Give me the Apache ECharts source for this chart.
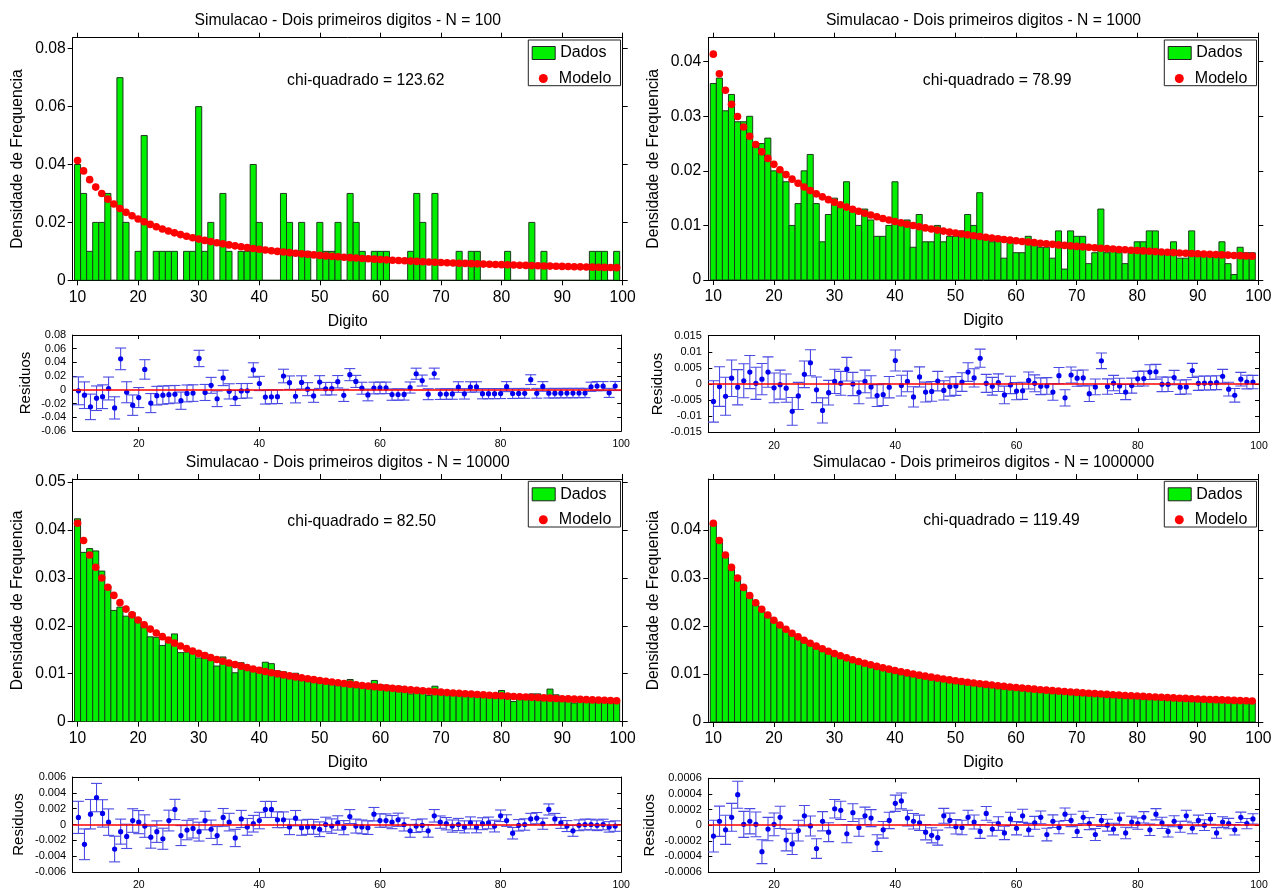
<!DOCTYPE html>
<html><head><meta charset="utf-8">
<script src="https://cdn.jsdelivr.net/npm/echarts@6/dist/echarts.min.js"></script>
<style>html,body{margin:0;padding:0;background:#fff}#c{width:1279px;height:891px}</style>
</head><body><div id="c"></div><script>
// ---------------- DATA ----------------
const digits = [10,11,12,13,14,15,16,17,18,19,20,21,22,23,24,25,26,27,28,29,30,31,32,33,34,35,36,37,38,39,
40,41,42,43,44,45,46,47,48,49,50,51,52,53,54,55,56,57,58,59,60,61,62,63,64,65,66,67,68,69,
70,71,72,73,74,75,76,77,78,79,80,81,82,83,84,85,86,87,88,89,90,91,92,93,94,95,96,97,98,99];

const modelo = [0.04139,0.03779,0.03476,0.03219,0.02996,0.02803,0.02633,0.02482,0.02348,0.02228,
0.02119,0.02020,0.01931,0.01848,0.01773,0.01703,0.01639,0.01579,0.01524,0.01472,
0.01424,0.01379,0.01336,0.01297,0.01259,0.01223,0.01190,0.01158,0.01128,0.01100,
0.01072,0.01047,0.01022,0.00998,0.00976,0.00955,0.00934,0.00914,0.00896,0.00877,
0.00860,0.00843,0.00827,0.00812,0.00797,0.00783,0.00769,0.00755,0.00742,0.00730,
0.00718,0.00706,0.00695,0.00684,0.00673,0.00663,0.00653,0.00643,0.00634,0.00625,
0.00616,0.00607,0.00599,0.00591,0.00583,0.00575,0.00568,0.00560,0.00553,0.00546,
0.00540,0.00533,0.00526,0.00520,0.00514,0.00508,0.00502,0.00496,0.00491,0.00485,
0.00480,0.00475,0.00470,0.00465,0.00460,0.00455,0.00450,0.00446,0.00441,0.00437];

const dados100 = [0.04,0.03,0.01,0.02,0.02,0.03,0,0.07,0.02,0,
0.01,0.05,0,0.01,0.01,0.01,0.01,0,0.01,0.01,
0.06,0.01,0.02,0,0.03,0.01,0,0.01,0.01,0.04,
0.02,0,0,0,0.03,0.02,0,0.02,0.01,0,
0.02,0.01,0.01,0.02,0,0.03,0.02,0.01,0,0.01,
0.01,0.01,0,0,0,0.01,0.03,0.02,0,0.03,
0,0,0,0.01,0,0.01,0.01,0,0,0,
0,0.01,0,0,0,0.02,0,0.01,0,0,
0,0,0,0,0,0.01,0.01,0.01,0,0.01];
const resid100 = [-0.0014,-0.0078,-0.0248,-0.0122,-0.0100,0.0020,-0.0263,0.0452,-0.0035,-0.0223,
-0.0112,0.0298,-0.0193,-0.0085,-0.0077,-0.0070,-0.0064,-0.0158,-0.0052,-0.0047,
0.0458,-0.0038,0.0066,-0.0130,0.0174,-0.0022,-0.0119,-0.0016,-0.0013,0.0290,
0.0093,-0.0105,-0.0102,-0.0100,0.0202,0.0105,-0.0093,0.0109,0.0010,-0.0088,
0.0114,0.0016,0.0017,0.0119,-0.0080,0.0222,0.0123,0.0024,-0.0074,0.0027,
0.0028,0.0029,-0.0069,-0.0068,-0.0067,0.0034,0.0235,0.0136,-0.0063,0.0238,
-0.0062,-0.0061,-0.0060,0.0041,-0.0058,0.0042,0.0043,-0.0056,-0.0055,-0.0055,
-0.0054,0.0047,-0.0053,-0.0052,-0.0051,0.0149,-0.0050,0.0050,-0.0049,-0.0049,
-0.0048,-0.0047,-0.0047,-0.0046,-0.0046,0.0045,0.0055,0.0054,-0.0044,0.0056];
const err100 = [0.0203,0.0194,0.0186,0.0179,0.0173,0.0167,0.0162,0.0158,0.0153,0.0149,
0.0146,0.0142,0.0139,0.0136,0.0133,0.0131,0.0128,0.0126,0.0123,0.0121,
0.0119,0.0117,0.0116,0.0114,0.0112,0.0111,0.0109,0.0108,0.0106,0.0105,
0.0104,0.0102,0.0101,0.0100,0.0099,0.0098,0.0097,0.0096,0.0095,0.0094,
0.0093,0.0092,0.0091,0.0090,0.0089,0.0088,0.0088,0.0087,0.0086,0.0085,
0.0085,0.0084,0.0083,0.0083,0.0082,0.0081,0.0081,0.0080,0.0080,0.0079,
0.0078,0.0078,0.0077,0.0077,0.0076,0.0076,0.0075,0.0075,0.0074,0.0074,
0.0073,0.0073,0.0073,0.0072,0.0072,0.0071,0.0071,0.0070,0.0070,0.0070,
0.0069,0.0069,0.0069,0.0068,0.0068,0.0067,0.0067,0.0067,0.0066,0.0066];

const dados1000 = [0.036,0.037,0.031,0.034,0.029,0.029,0.030,0.025,0.025,0.026,
0.020,0.020,0.018,0.010,0.014,0.020,0.023,0.014,0.007,0.012,
0.015,0.014,0.018,0.013,0.010,0.013,0.011,0.008,0.008,0.010,
0.018,0.010,0.011,0.006,0.012,0.007,0.007,0.010,0.007,0.008,
0.008,0.009,0.012,0.010,0.016,0.008,0.007,0.008,0.004,0.007,
0.005,0.005,0.008,0.007,0.006,0.006,0.004,0.009,0.002,0.009,
0.008,0.008,0.003,0.005,0.013,0.005,0.006,0.005,0.003,0.005,
0.007,0.007,0.009,0.009,0.005,0.005,0.007,0.004,0.004,0.009,
0.005,0.005,0.005,0.005,0.007,0.003,0.001,0.006,0.005,0.005];
const resid1000 = [-0.0054,-0.0008,-0.0038,0.0018,-0.0010,0.0010,0.0037,0.0002,0.0015,0.0037,
-0.0012,-0.0002,-0.0013,-0.0085,-0.0037,0.0030,0.0066,-0.0018,-0.0082,-0.0027,
0.0008,0.0002,0.0046,0.0000,-0.0026,0.0008,-0.0009,-0.0036,-0.0033,-0.0010,
0.0073,-0.0005,0.0008,-0.0040,0.0022,-0.0025,-0.0023,0.0009,-0.0020,-0.0008,
-0.0006,0.0006,0.0037,0.0019,0.0080,0.0002,-0.0007,0.0004,-0.0034,-0.0003,
-0.0022,-0.0021,0.0011,0.0002,-0.0007,-0.0006,-0.0025,0.0026,-0.0043,0.0028,
0.0018,0.0019,-0.0030,-0.0009,0.0072,-0.0008,0.0003,-0.0006,-0.0025,-0.0005,
0.0016,0.0017,0.0037,0.0038,-0.0001,-0.0001,0.0020,-0.0010,-0.0009,0.0042,
0.0002,0.0003,0.0003,0.0004,0.0024,-0.0016,-0.0035,0.0015,0.0006,0.0006];
const err1000 = [0.00643,0.00615,0.00590,0.00567,0.00547,0.00529,0.00513,0.00498,0.00485,0.00472,
0.00460,0.00450,0.00439,0.00430,0.00421,0.00413,0.00405,0.00397,0.00390,0.00384,
0.00377,0.00371,0.00366,0.00360,0.00355,0.00350,0.00345,0.00340,0.00336,0.00332,
0.00328,0.00324,0.00320,0.00316,0.00312,0.00309,0.00306,0.00302,0.00299,0.00296,
0.00293,0.00290,0.00288,0.00285,0.00282,0.00280,0.00277,0.00275,0.00273,0.00270,
0.00268,0.00266,0.00264,0.00262,0.00260,0.00258,0.00256,0.00254,0.00252,0.00250,
0.00248,0.00247,0.00245,0.00243,0.00241,0.00240,0.00238,0.00237,0.00235,0.00234,
0.00232,0.00231,0.00229,0.00228,0.00227,0.00225,0.00224,0.00223,0.00222,0.00220,
0.00219,0.00218,0.00217,0.00216,0.00214,0.00213,0.00212,0.00211,0.00210,0.00209];

const dados10000 = [0.0423,0.0353,0.0361,0.0356,0.0314,0.0283,0.0232,0.0239,0.0220,0.0228,
0.0215,0.0200,0.0177,0.0176,0.0159,0.0175,0.0183,0.0144,0.0145,0.0142,
0.0133,0.0143,0.0128,0.0116,0.0135,0.0125,0.0102,0.0123,0.0110,0.0111,
0.0112,0.0124,0.0121,0.0106,0.0104,0.0093,0.0101,0.0087,0.0087,0.0085,
0.0080,0.0084,0.0081,0.0083,0.0076,0.0088,0.0075,0.0073,0.0070,0.0086,
0.0077,0.0076,0.0072,0.0074,0.0067,0.0058,0.0063,0.0063,0.0055,0.0074,
0.0065,0.0062,0.0058,0.0059,0.0055,0.0060,0.0054,0.0057,0.0057,0.0053,
0.0065,0.0058,0.0042,0.0051,0.0051,0.0058,0.0058,0.0051,0.0068,0.0056,
0.0050,0.0045,0.0039,0.0045,0.0046,0.0045,0.0044,0.0045,0.0041,0.0042];
const resid10000 = [0.0009,-0.0025,0.0013,0.0034,0.0014,0.0003,-0.0031,-0.0009,-0.0015,0.0005,
0.0003,-0.0002,-0.0016,-0.0009,-0.0018,0.0005,0.0019,-0.0014,-0.0007,-0.0005,
-0.0009,0.0005,-0.0006,-0.0014,0.0009,0.0003,-0.0017,0.0007,-0.0003,0.0001,
0.0005,0.0019,0.0019,0.0006,0.0006,-0.0003,0.0008,-0.0004,-0.0003,-0.0003,
-0.0006,0.0000,-0.0002,0.0002,-0.0004,0.0010,-0.0002,-0.0003,-0.0004,0.0013,
0.0005,0.0005,0.0003,0.0006,0.0000,-0.0008,-0.0002,-0.0001,-0.0008,0.0011,
0.0003,0.0001,-0.0002,0.0000,-0.0003,0.0002,-0.0003,0.0001,0.0002,-0.0002,
0.0011,0.0005,-0.0011,-0.0001,0.0000,0.0007,0.0008,0.0001,0.0019,0.0007,
0.0002,-0.0002,-0.0008,-0.0001,0.0000,0.0000,-0.0001,0.0000,-0.0003,-0.0002];
const err10000 = [0.00203,0.00194,0.00186,0.00179,0.00173,0.00167,0.00162,0.00158,0.00153,0.00149,
0.00146,0.00142,0.00139,0.00136,0.00133,0.00131,0.00128,0.00126,0.00123,0.00121,
0.00119,0.00117,0.00116,0.00114,0.00112,0.00111,0.00109,0.00108,0.00106,0.00105,
0.00104,0.00102,0.00101,0.00100,0.00099,0.00098,0.00097,0.00096,0.00095,0.00094,
0.00093,0.00092,0.00091,0.00090,0.00089,0.00088,0.00088,0.00087,0.00086,0.00085,
0.00085,0.00084,0.00083,0.00083,0.00082,0.00081,0.00081,0.00080,0.00080,0.00079,
0.00078,0.00078,0.00077,0.00077,0.00076,0.00076,0.00075,0.00075,0.00074,0.00074,
0.00073,0.00073,0.00073,0.00072,0.00072,0.00071,0.00071,0.00070,0.00070,0.00070,
0.00069,0.00069,0.00069,0.00068,0.00068,0.00067,0.00067,0.00067,0.00066,0.00066];

const dados1000000 = [0.04125,0.03784,0.03470,0.03229,0.03035,0.02804,0.02638,0.02483,0.02314,0.02223,
0.02120,0.02030,0.01912,0.01824,0.01766,0.01715,0.01638,0.01549,0.01529,0.01463,
0.01445,0.01398,0.01325,0.01313,0.01256,0.01235,0.01199,0.01135,0.01122,0.01106,
0.01100,0.01078,0.01031,0.01003,0.00979,0.00946,0.00921,0.00898,0.00908,0.00883,
0.00858,0.00840,0.00837,0.00816,0.00789,0.00798,0.00764,0.00757,0.00732,0.00738,
0.00714,0.00718,0.00689,0.00687,0.00683,0.00651,0.00658,0.00640,0.00648,0.00631,
0.00608,0.00617,0.00601,0.00579,0.00589,0.00575,0.00563,0.00568,0.00543,0.00550,
0.00542,0.00543,0.00520,0.00534,0.00517,0.00500,0.00507,0.00494,0.00503,0.00481,
0.00486,0.00475,0.00478,0.00455,0.00464,0.00457,0.00444,0.00456,0.00443,0.00445];
const resid1000000 = [-0.00014,0.00005,-0.00006,0.00010,0.00039,0.00001,0.00005,0.00001,-0.00034,-0.00005,
0.00001,0.00010,-0.00019,-0.00024,-0.00007,0.00012,-0.00001,-0.00030,0.00005,-0.00009,
0.00021,0.00019,-0.00011,0.00016,-0.00003,0.00012,0.00009,-0.00023,-0.00006,0.00006,
0.00028,0.00031,0.00009,0.00005,0.00003,-0.00009,-0.00013,-0.00016,0.00012,0.00006,
-0.00002,-0.00003,0.00010,0.00004,-0.00008,0.00015,-0.00005,0.00002,-0.00010,0.00008,
-0.00004,0.00012,-0.00006,0.00003,0.00010,-0.00012,0.00005,-0.00003,0.00014,0.00006,
-0.00008,0.00010,0.00002,-0.00012,0.00006,0.00000,-0.00005,0.00008,-0.00010,0.00004,
0.00002,0.00010,-0.00006,0.00014,0.00003,-0.00008,0.00005,-0.00002,0.00012,-0.00004,
0.00006,0.00000,0.00008,-0.00010,0.00004,0.00002,-0.00006,0.00010,0.00002,0.00008];
const err1000000 = [0.000203,0.000194,0.000186,0.000179,0.000173,0.000167,0.000162,0.000158,0.000153,0.000149,
0.000146,0.000142,0.000139,0.000136,0.000133,0.000131,0.000128,0.000126,0.000123,0.000121,
0.000119,0.000117,0.000116,0.000114,0.000112,0.000111,0.000109,0.000108,0.000106,0.000105,
0.000104,0.000102,0.000101,0.000100,0.000099,0.000098,0.000097,0.000096,0.000095,0.000094,
0.000093,0.000092,0.000091,0.000090,0.000089,0.000088,0.000088,0.000087,0.000086,0.000085,
0.000085,0.000084,0.000083,0.000083,0.000082,0.000081,0.000081,0.000080,0.000080,0.000079,
0.000078,0.000078,0.000077,0.000077,0.000076,0.000076,0.000075,0.000075,0.000074,0.000074,
0.000073,0.000073,0.000073,0.000072,0.000072,0.000071,0.000071,0.000070,0.000070,0.000070,
0.000069,0.000069,0.000069,0.000068,0.000068,0.000067,0.000067,0.000067,0.000066,0.000066];

// tick labels
const xTicksMain = [10,20,30,40,50,60,70,80,90,100];
const xTicksRes = [20,40,60,80,100];
const yTicks100 = [0,0.02,0.04,0.06,0.08];
const yTicks1000 = [0,0.01,0.02,0.03,0.04];
const yTicks10000 = [0,0.01,0.02,0.03,0.04,0.05];
const yTicks1000000 = [0,0.01,0.02,0.03,0.04];
const rTicks100 = [-0.06,-0.04,-0.02,0,0.02,0.04,0.06,0.08];
const rTicks1000 = [-0.015,-0.01,-0.005,0,0.005,0.01,0.015];
const rTicks10000 = [-0.006,-0.004,-0.002,0,0.002,0.004,0.006];
const rTicks1000000 = [-0.0006,-0.0004,-0.0002,0,0.0002,0.0004,0.0006];

const titles = ['Simulacao - Dois primeiros digitos - N = 100','Simulacao - Dois primeiros digitos - N = 1000',
  'Simulacao - Dois primeiros digitos - N = 10000','Simulacao - Dois primeiros digitos - N = 1000000'];
const chiTexts = ['chi-quadrado = 123.62','chi-quadrado = 78.99','chi-quadrado = 82.50','chi-quadrado = 119.49'];

// ---------------- LAYOUT / STYLE ----------------
const FONT = '"Liberation Sans", Arial, Helvetica, sans-serif';
const GREEN = '#00f000', EDGE = '#1c3a1c', RED = '#ff0000', BLUE = '#0000ee', EBAR = '#4a4ae4';

const panels = [
  {dados:dados100, resid:resid100, err:err100, yT:yTicks100, rT:rTicks100},
  {dados:dados1000, resid:resid1000, err:err1000, yT:yTicks1000, rT:rTicks1000},
  {dados:dados10000, resid:resid10000, err:err10000, yT:yTicks10000, rT:rTicks10000},
  {dados:dados1000000, resid:resid1000000, err:err1000000, yT:yTicks1000000, rT:rTicks1000000}
];
const geo = [
  {mx:72.7, my:37.7, mw:550, mh:242.6, xmin:9.2, ymax:0.0838, rx:72.7, ry:335, rw:548.5, rh:96, rxmin:9.05, rmin:-0.06, rmax:0.08, resGap:39,
   tX:347.7, tY:20.5, chiX:365.8, chiY:80.7, legX:528.3, legY:40},
  {mx:708.3, my:37.7, mw:550, mh:242.3, xmin:9.17, ymax:0.0444, rx:708.3, ry:335.7, rw:550.7, rh:96.6, rxmin:9.15, rmin:-0.015, rmax:0.015, resGap:43,
   tX:983.5, tY:20.5, chiX:997.2, chiY:80.7, legX:1164.3, legY:40},
  {mx:72.7, my:479, mw:550, mh:242.7, xmin:9.2, ymax:0.0506, rx:72.7, ry:777, rw:548.5, rh:95.3, rxmin:9.05, rmin:-0.006, rmax:0.006, resGap:46,
   tX:347.7, tY:462.5, chiX:361.7, chiY:522, legX:528.3, legY:481.3},
  {mx:708.3, my:479, mw:550, mh:243, xmin:9.17, ymax:0.0506, rx:708.3, ry:778.3, rw:550.7, rh:96, rxmin:9.15, rmin:-0.0006, rmax:0.0006, resGap:51,
   tX:983.5, tY:462.5, chiX:1001.5, chiY:521, legX:1164.3, legY:481.3}
];

const fmt = v => String(+(+v).toFixed(6));
const grid = [], xAxis = [], yAxis = [], series = [], legend = [], graphic = [];

function mkAxis(base, o){ return Object.assign({type:'value', splitLine:{show:false}, axisLine:{show:true, onZero:false, lineStyle:{color:'#000', width:1}}}, base, o); }

panels.forEach((p, i) => {
  const g = geo[i];
  const gm = grid.length; grid.push({left:g.mx, top:g.my, width:g.mw, height:g.mh, containLabel:false});
  const gr = grid.length; grid.push({left:g.rx, top:g.ry, width:g.rw, height:g.rh, containLabel:false});
  const mainTick = {show:true, inside:false, length:5, lineStyle:{color:'#000', width:1}};
  const resTick = {show:true, inside:true, length:4, lineStyle:{color:'#000', width:1}};
  const mainLbl = {show:true, fontSize:15.7, fontFamily:FONT, color:'#000', formatter:fmt};
  const resLbl = {show:true, fontSize:11, fontFamily:FONT, color:'#000', formatter:fmt};
  const nameStyleMain = {fontSize:15.7, fontFamily:FONT, color:'#000'};
  const xm = xAxis.length;
  xAxis.push(mkAxis({gridIndex:gm, min:g.xmin, max:100, position:'bottom'}, {
    axisTick:Object.assign({customValues:xTicksMain}, mainTick),
    axisLabel:Object.assign({customValues:xTicksMain, margin:9}, mainLbl),
    name:'Digito', nameLocation:'middle', nameGap:33, nameTextStyle:nameStyleMain}));
  xAxis.push(mkAxis({gridIndex:gm, min:g.xmin, max:100, position:'top'}, {
    axisTick:Object.assign({customValues:xTicksMain}, mainTick), axisLabel:{show:false}}));
  const ym = yAxis.length;
  yAxis.push(mkAxis({gridIndex:gm, min:0, max:g.ymax, position:'left'}, {
    axisTick:Object.assign({customValues:p.yT}, mainTick),
    axisLabel:Object.assign({customValues:p.yT, margin:7}, mainLbl),
    name:'Densidade de Frequencia', nameLocation:'middle', nameGap:47, nameTextStyle:nameStyleMain}));
  yAxis.push(mkAxis({gridIndex:gm, min:0, max:g.ymax, position:'right'}, {
    axisTick:Object.assign({customValues:p.yT}, mainTick), axisLabel:{show:false}}));
  const xr = xAxis.length;
  xAxis.push(mkAxis({gridIndex:gr, min:g.rxmin, max:100, position:'bottom'}, {
    axisTick:Object.assign({customValues:xTicksRes}, resTick),
    axisLabel:Object.assign({customValues:xTicksRes, margin:8}, resLbl, {fontSize:10.5})}));
  xAxis.push(mkAxis({gridIndex:gr, min:g.rxmin, max:100, position:'top'}, {
    axisTick:Object.assign({customValues:xTicksRes}, resTick), axisLabel:{show:false}}));
  const yr = yAxis.length;
  yAxis.push(mkAxis({gridIndex:gr, min:g.rmin, max:g.rmax, position:'left'}, {
    axisTick:Object.assign({customValues:p.rT}, resTick),
    axisLabel:Object.assign({customValues:p.rT, margin:6.5}, resLbl),
    name:'Residuos', nameLocation:'middle', nameGap:g.resGap, nameTextStyle:{fontSize:15, fontFamily:FONT, color:'#000'}}));
  yAxis.push(mkAxis({gridIndex:gr, min:g.rmin, max:g.rmax, position:'right'}, {
    axisTick:Object.assign({customValues:p.rT}, resTick), axisLabel:{show:false}}));

  series.push({
    type:'custom', name:'Dados', xAxisIndex:xm, yAxisIndex:ym, clip:true,
    itemStyle:{color:GREEN, borderColor:EDGE, borderWidth:1},
    data: digits.map((d, k) => [d, p.dados[k]]),
    renderItem(params, api){
      const x = api.value(0), v = api.value(1);
      const a = api.coord([x - 0.5, v]), b = api.coord([x + 0.5, 0]);
      return {type:'rect', shape:{x:a[0], y:a[1], width:b[0]-a[0], height:b[1]-a[1]},
        style:{fill:GREEN, stroke:EDGE, lineWidth:1}};
    }
  });
  series.push({
    type:'scatter', name:'Modelo', xAxisIndex:xm, yAxisIndex:ym, symbol:'circle', symbolSize:7.6,
    itemStyle:{color:RED, opacity:1}, z:5,
    data: digits.map((d, k) => [d, modelo[k]])
  });
  series.push({
    type:'custom', name:'erro'+i, xAxisIndex:xr, yAxisIndex:yr, clip:true, z:3,
    data: digits.map((d, k) => [d, p.resid[k], p.err[k]]),
    renderItem(params, api){
      const x = api.value(0), y = api.value(1), e = api.value(2);
      const t = api.coord([x, y + e]), b = api.coord([x, y - e]);
      const hw = 5.5, st = {stroke:EBAR, lineWidth:1.1};
      return {type:'group', children:[
        {type:'line', shape:{x1:t[0], y1:t[1], x2:b[0], y2:b[1]}, style:st},
        {type:'line', shape:{x1:t[0]-hw, y1:t[1], x2:t[0]+hw, y2:t[1]}, style:st},
        {type:'line', shape:{x1:b[0]-hw, y1:b[1], x2:b[0]+hw, y2:b[1]}, style:st}
      ]};
    }
  });
  series.push({
    type:'scatter', name:'residuo'+i, xAxisIndex:xr, yAxisIndex:yr, symbol:'circle', symbolSize:5.2, z:4,
    itemStyle:{color:BLUE, opacity:1},
    data: digits.map((d, k) => [d, p.resid[k]]),
    markLine:{silent:true, symbol:'none', label:{show:false}, animation:false,
      lineStyle:{color:RED, width:1.6, type:'solid'}, data:[{yAxis:0}]}
  });

  legend.push({left:g.legX+3.4, top:g.legY+5, padding:0, itemWidth:23, itemHeight:13, selectedMode:false,
    data:[{name:'Dados', icon:'rect', itemStyle:{color:GREEN, borderColor:'#222', borderWidth:1}}],
    textStyle:{fontFamily:FONT, fontSize:16, color:'#000'}});
  legend.push({left:g.legX+10.5, top:g.legY+30.5, padding:0, itemWidth:9, itemHeight:9, selectedMode:false,
    data:[{name:'Modelo', icon:'circle', itemStyle:{color:RED}}],
    textStyle:{fontFamily:FONT, fontSize:16, color:'#000', padding:[0,0,0,6]}});
  graphic.push({type:'rect', shape:{x:g.legX, y:g.legY, width:92.2, height:45.7}, z:100,
    style:{fill:'transparent', stroke:'#222', lineWidth:1}});
  graphic.push({type:'text', x:g.tX, y:g.tY, z:100, style:{text:titles[i], fill:'#000', font:'15.7px ' + FONT, textAlign:'center', textVerticalAlign:'middle'}});
  graphic.push({type:'text', x:g.chiX, y:g.chiY, z:100, style:{text:chiTexts[i], fill:'#000', font:'15.7px ' + FONT, textAlign:'center', textVerticalAlign:'middle'}});
});

const chart = echarts.init(document.getElementById('c'), null, {renderer:'canvas'});
chart.setOption({animation:false, backgroundColor:'#fff', grid, xAxis, yAxis, series, legend, graphic});
</script></body></html>
